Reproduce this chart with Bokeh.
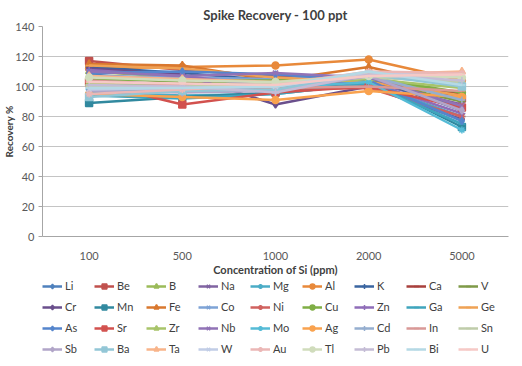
from bokeh.plotting import figure
from bokeh.models import Legend, LegendItem, FactorRange, Range1d
from bokeh.layouts import column
from bokeh.embed import file_html
from bokeh.resources import INLINE

concentrations = ["100", "500", "1000", "2000", "5000"]
y_ticks = [0, 20, 40, 60, 80, 100, 120, 140]

elements = ["Li", "Be", "B", "Na", "Mg", "Al", "K", "Ca", "V",
            "Cr", "Mn", "Fe", "Co", "Ni", "Cu", "Zn", "Ga", "Ge",
            "As", "Sr", "Zr", "Nb", "Mo", "Ag", "Cd", "In", "Sn",
            "Sb", "Ba", "Ta", "W", "Au", "Tl", "Pb", "Bi", "U"]

Li = [108, 104, 100, 104, 86]
Be = [117, 111, 107, 106, 92]
B = [110, 106, 103, 105, 95]
Na = [104, 101, 98, 103, 88]
Mg = [96, 94, 95, 102, 80]
Al = [112, 113, 114, 118, 104]
K = [113, 109, 104, 106, 84]
Ca = [101, 99, 97, 101, 95]
V = [106, 103, 101, 104, 90]
Cr = [112, 108, 88, 100, 78]
Mn = [89, 93, 96, 104, 73]
Fe = [115, 114, 104, 113, 99]
Co = [107, 106, 105, 108, 102]
Ni = [100, 99, 98, 99, 80]
Cu = [105, 104, 104, 106, 96]
Zn = [111, 107, 100, 103, 82]
Ga = [94, 92, 95, 102, 75]
Ge = [114, 112, 106, 103, 94]
As = [109, 110, 108, 104, 77]
Sr = [103, 88, 96, 100, 86]
Zr = [102, 100, 101, 105, 99]
Nb = [110, 107, 109, 106, 87]
Mo = [98, 97, 99, 103, 71]
Ag = [95, 93, 91, 97, 93]
Cd = [99, 98, 99, 107, 91]
In = [104, 101, 99, 100, 97]
Sn = [100, 100, 102, 106, 103]
Sb = [97, 96, 97, 107, 84]
Ba = [93, 97, 98, 108, 100]
Ta = [107, 105, 103, 108, 110]
W = [98, 99, 100, 109, 107]
Au = [95, 98, 101, 110, 109]
Tl = [106, 104, 103, 107, 106]
Pb = [101, 100, 96, 108, 104]
Bi = [99, 99, 100, 110, 101]
U = [103, 102, 101, 107, 108]

series = [Li, Be, B, Na, Mg, Al, K, Ca, V,
          Cr, Mn, Fe, Co, Ni, Cu, Zn, Ga, Ge,
          As, Sr, Zr, Nb, Mo, Ag, Cd, In, Sn,
          Sb, Ba, Ta, W, Au, Tl, Pb, Bi, U]

colors = ["#4F81BD", "#C0504D", "#9BBB59", "#8064A2", "#4BACC6", "#E8893A", "#3A65A0", "#A8403D", "#7F9A48",
          "#6A4F8C", "#31899F", "#D9782F", "#7EA3D6", "#D0625F", "#7FAE45", "#8F6DB8", "#3FA5BD", "#EFA255",
          "#5585CC", "#D2514E", "#A8C46A", "#9173B6", "#55BBD6", "#F9A24E", "#95AECF", "#D99997", "#BFCCAA",
          "#B1A5C8", "#92C6D6", "#F8B48A", "#C1CDE6", "#EBB7B6", "#D0DCBC", "#C4BCD5", "#B5D9E5", "#F6C9C6"]
marker_cycle = ["diamond", "square", "triangle", "x", "asterisk", "circle", "cross", "dash", "dash"]

FONT = "Lato"

p = figure(x_range=FactorRange(*concentrations), y_range=Range1d(0, 140),
           frame_width=466, frame_height=210,
           min_border_left=32, min_border_right=6, min_border_top=19, min_border_bottom=0,
           output_backend="svg", toolbar_location=None, title="Spike Recovery - 100 ppt")

p.title.align = "center"
p.title.text_font = FONT
p.title.text_font_size = "13px"
p.title.text_font_style = "bold"
p.title.text_color = "#404040"
p.title.standoff = 8

p.outline_line_color = None
p.xgrid.grid_line_color = None
p.ygrid.grid_line_color = "#C4C4C4"
p.ygrid.grid_line_width = 1

p.yaxis.ticker = y_ticks
p.yaxis.axis_label = "Recovery %"
p.yaxis.axis_label_text_font = FONT
p.yaxis.axis_label_text_font_size = "10px"
p.yaxis.axis_label_text_font_style = "bold"
p.yaxis.axis_label_text_color = "#404040"
p.yaxis.axis_label_standoff = -3
p.yaxis.major_label_text_font = FONT
p.yaxis.major_label_text_font_size = "11px"
p.yaxis.major_label_text_color = "#595959"
p.yaxis.major_label_standoff = 4
p.yaxis.axis_line_color = "#A6A6A6"
p.yaxis.major_tick_line_color = "#A6A6A6"
p.yaxis.major_tick_out = 4
p.yaxis.major_tick_in = 0
p.yaxis.minor_tick_line_color = None

p.xaxis.axis_label = "Concentration of Si (ppm)"
p.xaxis.axis_label_text_font = FONT
p.xaxis.axis_label_text_font_size = "11px"
p.xaxis.axis_label_text_font_style = "bold"
p.xaxis.axis_label_text_color = "#404040"
p.xaxis.axis_label_standoff = 0
p.xaxis.major_label_text_font = FONT
p.xaxis.major_label_text_font_size = "11px"
p.xaxis.major_label_text_color = "#595959"
p.xaxis.major_label_standoff = 9
p.xaxis.axis_line_color = "#A6A6A6"
p.xaxis.major_tick_line_color = None

for i, vals in enumerate(series):
    c = colors[i]
    p.line(x=concentrations, y=vals, line_color=c, line_width=2.5)
    p.scatter(x=concentrations, y=vals, marker=marker_cycle[i % 9], size=7,
              fill_color=c, line_color=c, line_width=1.5)

# legend strip: same series drawn out of view, only their legend keys show
lg = figure(x_range=FactorRange(*concentrations), y_range=Range1d(1000, 1001), width=506, height=83,
            x_axis_type=None, y_axis_type=None, min_border=0,
            output_backend="svg", toolbar_location=None)
lg.outline_line_color = None
lg.xgrid.grid_line_color = None
lg.ygrid.grid_line_color = None

items = []
for i, (name, vals) in enumerate(zip(elements, series)):
    c = colors[i]
    r_line = lg.line(x=concentrations, y=vals, line_color=c, line_width=2.5)
    r_mark = lg.scatter(x=concentrations, y=vals, marker=marker_cycle[i % 9], size=7,
                        fill_color=c, line_color=c, line_width=1.5)
    items.append(LegendItem(label=name, renderers=[r_line, r_mark]))

legend = Legend(items=items, ncols=9, orientation="horizontal", location=(0, 4),
                label_text_font=FONT, label_text_font_size="11px", label_text_color="#404040",
                glyph_width=20, glyph_height=12, label_standoff=3, label_width=25, label_height=17,
                spacing=4, padding=0, margin=0, border_line_color=None,
                background_fill_alpha=0)
lg.add_layout(legend, "center")

open("out.html", "w").write(file_html(column(p, lg, spacing=0), INLINE))
